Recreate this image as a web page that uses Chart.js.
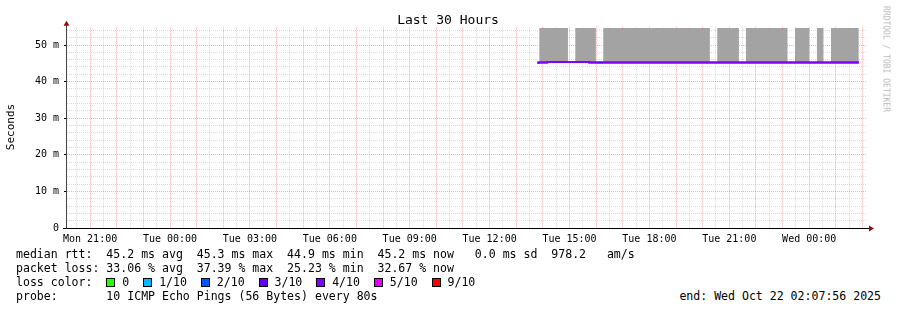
<!DOCTYPE html>
<html><head><meta charset="utf-8">
<script src="https://cdn.jsdelivr.net/npm/chart.js@4.4.1/dist/chart.umd.min.js"></script>
<style>
html,body{margin:0;padding:0;background:#fff;}
#wrap{position:relative;width:897px;height:310px;overflow:hidden;background:#fff;}
#c{position:absolute;left:0;top:0;}
.t{position:absolute;font-family:'DejaVu Sans Mono',monospace;font-size:11.55px;white-space:pre;color:#000;line-height:14px;}
.box{display:inline-block;width:7px;height:7px;border:1px solid #000;vertical-align:-1px;}
#rrd{position:absolute;left:886px;top:59px;transform:translate(-50%,-50%) rotate(90deg);font-family:'DejaVu Sans Mono',monospace;font-size:8px;color:#b8b8b8;white-space:pre;}
#title{position:absolute;left:448px;top:19px;transform:translate(-50%,-50%);font-family:'DejaVu Sans Mono',monospace;font-size:13px;color:#000;white-space:pre;}
</style>
</head><body>
<div id="wrap">
<canvas id="c" width="897" height="250"></canvas>
<div id="title">Last 30 Hours</div>
<div id="rrd">RRDTOOL / TOBI OETIKER</div>
<div class="t" style="left:16px;top:247px">median rtt:  45.2 ms avg  45.3 ms max  44.9 ms min  45.2 ms now   0.0 ms sd  978.2   am/s</div>
<div class="t" style="left:16px;top:261px">packet loss: 33.06 % avg  37.39 % max  25.23 % min  32.67 % now</div>
<div class="t" id="lossline" style="left:16px;top:275px"></div>
<div class="t" style="left:16px;top:289px">probe:       10 ICMP Echo Pings (56 Bytes) every 80s</div>
<div class="t" style="right:16px;top:289px">end: Wed Oct 22 02:07:56 2025</div>
</div>
<script>
// ---- data (x in hours since graph start, Mon Oct 20 20:07:56) ----
const hoursSpan = 30;
const firstHalfHour = 0.3678;           // 20:30 relative to graph start
const xTickLabels = ['Mon 21:00','Tue 00:00','Tue 03:00','Tue 06:00','Tue 09:00','Tue 12:00','Tue 15:00','Tue 18:00','Tue 21:00','Wed 00:00'];
const yTickLabels = ['0','10 m','20 m','30 m','40 m','50 m'];
const yAxisTitle = 'Seconds';
const yMax = 55;

const medianTimes  = [17.70, 18.03, 19.61, 19.87, 20.13, 29.73];
const medianValues = [44.85, 45.2, 45.35, 45.2, 45.2, 45.2];
const medianLoss   = [4, 4, 4, 3, 4, 4];

const smokeStart = [17.73, 19.08, 20.13, 24.41, 25.49, 27.33, 28.15, 28.68];
const smokeEnd   = [18.81, 19.86, 24.14, 25.23, 27.06, 27.88, 28.41, 29.73];
const smokeTop   = [54.65, 54.65, 54.65, 54.65, 54.65, 54.65, 54.65, 54.65];
const smokeBase  = 45.3;

const lossNames  = ['0','1/10','2/10','3/10','4/10','5/10','9/10'];
const lossSteps  = [0, 1, 2, 3, 4, 5, 9];
const lossColors = ['#26ff00','#00b8ff','#0059ff','#5e00ff','#7e00ff','#dd00ff','#ff0000'];

function lossColor(l){ return lossColors[lossSteps.indexOf(l)]; }

document.getElementById('lossline').innerHTML = 'loss color:  ' + lossNames.map((n,i)=>
  '<span class="box" style="background:'+lossColors[i]+'"></span> '+n).join('  ');

const medianData = medianTimes.map((t,i)=>({x:t, y:medianValues[i]}));
const smokeData = [];
smokeStart.forEach((s,i)=>{
  smokeData.push({x:s, y:smokeTop[i]});
  smokeData.push({x:smokeEnd[i], y:smokeTop[i]});
  smokeData.push({x:smokeEnd[i], y:null});
});

const RED = 'rgba(255,0,0,0.33)', GRAY = 'rgba(140,140,140,0.32)';

const axesPlugin = {
  id:'axes',
  afterDraw(chart){
    const ctx = chart.ctx, a = chart.chartArea;
    // redraw median line above grid
    ctx.save();
    ctx.beginPath(); ctx.rect(a.left, a.top, a.right-a.left, a.bottom-a.top); ctx.clip();
    chart.getDatasetMeta(0).controller.draw();
    ctx.restore();
    const y0 = Math.round(a.bottom)+0.5, x0 = Math.round(a.left)-0.5;
    ctx.save();
    ctx.strokeStyle = '#000'; ctx.lineWidth = 1;
    ctx.beginPath(); ctx.moveTo(63, y0); ctx.lineTo(a.right+3, y0); ctx.stroke();
    ctx.strokeStyle = '#444';
    ctx.beginPath(); ctx.moveTo(x0, y0); ctx.lineTo(x0, a.top-3); ctx.stroke();
    ctx.fillStyle = '#8b1010';
    ctx.beginPath(); ctx.moveTo(x0, a.top-6); ctx.lineTo(x0-3, a.top-1); ctx.lineTo(x0+3, a.top-1); ctx.closePath(); ctx.fill();
    ctx.beginPath(); ctx.moveTo(a.right+8, y0); ctx.lineTo(a.right+3, y0-3); ctx.lineTo(a.right+3, y0+3); ctx.closePath(); ctx.fill();
    // y axis title
    ctx.translate(11, 127); ctx.rotate(-Math.PI/2);
    ctx.fillStyle = '#000'; ctx.font = '11px "DejaVu Sans Mono"';
    ctx.textAlign = 'center'; ctx.textBaseline = 'middle';
    ctx.fillText(yAxisTitle, 0, 0);
    ctx.restore();
  }
};

new Chart(document.getElementById('c'), {
  type:'line',
  data:{datasets:[
    { data: medianData, stepped:'after', borderWidth:2, pointRadius:0, fill:false,
      borderColor: lossColor(4),
      segment:{ borderColor: c => lossColor(medianLoss[c.p0DataIndex]) } },
    { data: smokeData, borderWidth:0, pointRadius:0, spanGaps:false,
      backgroundColor:'#a3a3a3', borderColor:'rgba(0,0,0,0)', fill:{value: smokeBase} }
  ]},
  options:{
    responsive:false, animation:false, devicePixelRatio:1,
    layout:{padding:{left:0, right:31, top:26.7, bottom:0}},
    plugins:{ legend:{display:false}, tooltip:{enabled:false}, title:{display:false} },
    scales:{
      x:{ type:'linear', min:0, max:hoursSpan, z:1,
        afterBuildTicks(s){ const t=[]; for(let v=firstHalfHour; v<hoursSpan; v+=0.5) t.push({value:v}); s.ticks=t; },
        afterFit(s){ s.height = 22; },
        grid:{ drawTicks:false, lineWidth:1, color: c => (c.index%2===1) ? RED : GRAY },
        border:{ display:false, dash:[1,1] },
        ticks:{ autoSkip:false, maxRotation:0, padding:5, color:'#000',
          font:{family:'DejaVu Sans Mono', size:10},
          callback:(v,i)=> ((i-1)%6===0) ? xTickLabels[(i-1)/6] : '' }
      },
      y:{ type:'linear', min:0, max:yMax, z:1,
        afterBuildTicks(s){ const t=[]; for(let v=0; v<yMax; v+=2) t.push({value:v}); s.ticks=t; },
        afterFit(s){ s.width = 67; },
        grid:{ drawTicks:true, tickLength:3, lineWidth:1,
          color: c => (c.tick.value===0) ? 'rgba(0,0,0,0)' : (c.tick.value%10===0 ? RED : GRAY),
          tickColor: c => (c.tick.value%10===0) ? '#000' : 'rgba(0,0,0,0)' },
        border:{ display:false, dash:[1,1] },
        ticks:{ autoSkip:false, padding:5, color:'#000',
          font:{family:'DejaVu Sans Mono', size:10},
          callback:(v)=> (v%10===0) ? yTickLabels[v/10] : '' }
      }
    }
  },
  plugins:[axesPlugin]
});
</script>
</body></html>
